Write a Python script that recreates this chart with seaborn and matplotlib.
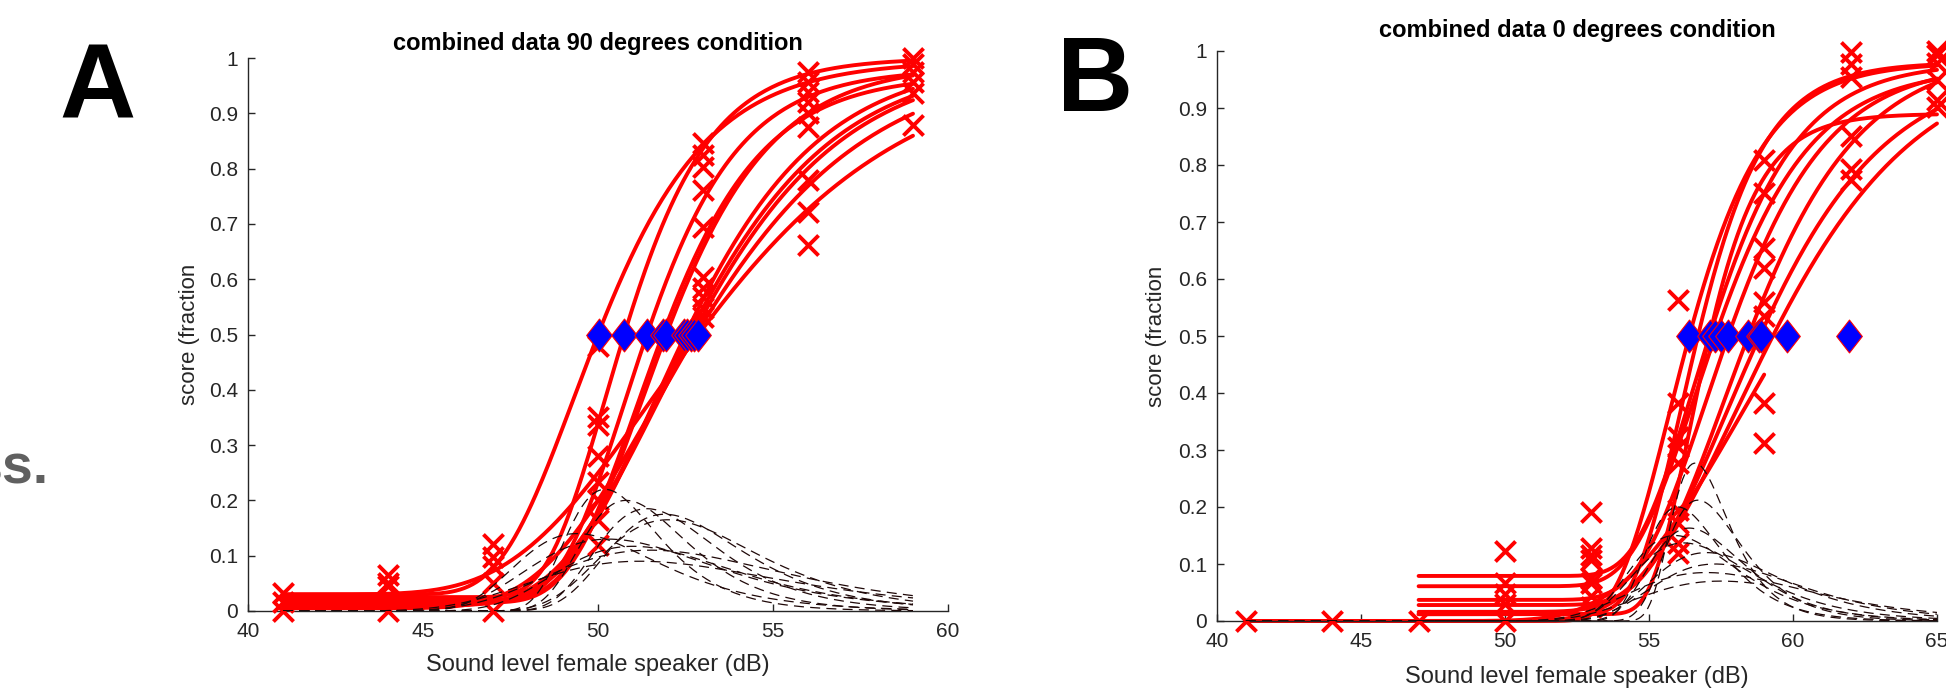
import numpy as np
import pandas as pd
import matplotlib
matplotlib.use("Agg")
import matplotlib.pyplot as plt
from matplotlib.path import Path
import seaborn as sns

# ---------------- values ----------------
# Panel A: 90 degrees condition
A_LEVELS = [41, 44, 47, 50, 53, 56, 59]
A_SCORES = [
    [0.032, 0.017, 0.0],
    [0.065, 0.05, 0.045, 0.0],
    [0.121, 0.098, 0.082, 0.05, 0.0],
    [0.48, 0.35, 0.336, 0.28, 0.233, 0.2, 0.165, 0.12],
    [0.846, 0.825, 0.803, 0.761, 0.695, 0.604, 0.584, 0.568, 0.548, 0.532],
    [0.975, 0.957, 0.939, 0.921, 0.9, 0.875, 0.779, 0.722, 0.662],
    [1.0, 0.99, 0.975, 0.957, 0.936, 0.879],
]
A_THRESH = [50.03, 50.74, 51.39, 51.85, 51.95, 52.45, 52.55, 52.65, 52.75, 52.87]

# fitted psychometric curves (0.5 point, spread, floor, lapse, x range)
A_FIT_T = [50.0, 50.75, 51.4, 51.85, 51.95, 52.5, 52.6, 52.7, 52.8, 52.87]
A_FIT_B = [2.1, 1.65, 1.8, 1.95, 2.05, 2.6, 2.8, 2.9, 3.3, 4.0]
A_FIT_G = [0.03, 0.025, 0.02, 0.02, 0.015, 0.015, 0.01, 0.01, 0.005, 0.03]
A_FIT_L = [0.005, 0.0, 0.02, 0.03, 0.01, 0.0, 0.0, 0.0, 0.0, 0.0]
A_FIT_X0 = [41] * 10
A_FIT_X1 = [59] * 10

# dashed slope curves (peak position, spread, peak height)
A_D_M = [50.2, 50.8, 51.4, 51.9, 49.4, 50.3, 51.0, 51.5, 51.2, 52.0]
A_D_B = [1.3, 1.5, 1.7, 1.9, 2.0, 2.6, 2.5, 3.3, 3.5, 2.2]
A_D_H = [0.22, 0.20, 0.185, 0.175, 0.14, 0.13, 0.117, 0.11, 0.09, 0.165]

# Panel B: 0 degrees condition
B_LEVELS = [41, 44, 47, 50, 53, 56, 59, 62, 65]
B_SCORES = [
    [0.0],
    [0.0],
    [0.0],
    [0.122, 0.066, 0.048, 0.03, 0.0],
    [0.192, 0.128, 0.116, 0.107, 0.075, 0.066, 0.043, 0.025],
    [0.563, 0.382, 0.323, 0.306, 0.277, 0.195, 0.172, 0.137, 0.119],
    [0.809, 0.751, 0.655, 0.62, 0.559, 0.535, 0.382, 0.312],
    [0.999, 0.978, 0.955, 0.851, 0.793, 0.774],
    [1.0, 0.993, 0.979, 0.949, 0.914, 0.902],
]
B_THRESH = [56.39, 57.12, 57.3, 57.51, 57.74, 58.44, 58.83, 58.9, 59.8, 61.93]

B_FIT_T = [56.4, 57.1, 57.1, 57.3, 56.7, 57.75, 58.45, 58.85, 59.3, 59.8]
B_FIT_B = [1.8, 1.3, 2.0, 2.2, 1.6, 2.3, 2.6, 3.0, 3.5, 4.2]
B_FIT_G = [0.0, 0.012, 0.079, 0.061, 0.012, 0.037, 0.028, 0.016, 0.0, 0.0]
B_FIT_L = [0.02, 0.11, 0.02, 0.03, 0.02, 0.02, 0.0, 0.02, 0.0, 0.0]
B_FIT_X0 = [41, 47, 47, 47, 47, 47, 47, 47, 41, 41]
B_FIT_X1 = [65, 65, 65, 65, 65, 65, 65, 65, 65, 59]

B_D_M = [56.6, 56.7, 56.0, 56.4, 55.9, 56.2, 57.0, 57.3, 57.0, 57.5]
B_D_B = [1.0, 1.3, 1.3, 1.6, 1.8, 2.0, 2.2, 2.5, 3.0, 3.2]
B_D_H = [0.277, 0.212, 0.20, 0.163, 0.15, 0.137, 0.12, 0.10, 0.085, 0.07]

RED = "#ff0000"
DASH_COL = "#1f0808"
AX_COL = "#262626"


def fit_frame(T, B, G, L, X0, X1):
    rows = []
    for i, (t, b, g, l, x0, x1) in enumerate(zip(T, B, G, L, X0, X1)):
        p0 = (0.5 - g) / (1 - g - l)
        m = t + b * np.log(-np.log(p0))
        x = np.linspace(x0, x1, 300)
        y = g + (1 - g - l) * np.exp(-np.exp(-(x - m) / b))
        rows.append(pd.DataFrame({"subject": i, "x": x, "y": y}))
    return pd.concat(rows, ignore_index=True)


def slope_frame(M, B, H, X0, X1):
    rows = []
    for i, (m, b, h, x0, x1) in enumerate(zip(M, B, H, X0, X1)):
        x = np.linspace(x0, x1, 300)
        z = (x - m) / b
        y = h * np.exp(1 - z - np.exp(-z))
        rows.append(pd.DataFrame({"subject": i, "x": x, "y": y}))
    return pd.concat(rows, ignore_index=True)


def points_frame(levels, scores):
    xs, ys = [], []
    for lev, sc in zip(levels, scores):
        xs += [lev] * len(sc)
        ys += sc
    return pd.DataFrame({"x": xs, "y": ys})


diamond = Path([(0, 1), (0.78, 0), (0, -1), (-0.78, 0), (0, 1)],
               [Path.MOVETO, Path.LINETO, Path.LINETO, Path.LINETO, Path.CLOSEPOLY])


def draw_panel(ax, fits, slopes, pts, thresh, xmax, title, title_pad):
    sns.lineplot(data=fits, x="x", y="y", units="subject", estimator=None,
                 sort=False, color=RED, linewidth=2.8, ax=ax, legend=False,
                 zorder=2, clip_on=False)
    sns.scatterplot(data=pts, x="x", y="y", marker="x", s=210, linewidth=2.8,
                    color=RED, ax=ax, legend=False, zorder=3, clip_on=False)
    sns.lineplot(data=slopes, x="x", y="y", units="subject", estimator=None,
                 sort=False, color=DASH_COL, linewidth=0.9, linestyle=(0, (8, 5)),
                 ax=ax, legend=False, zorder=4)
    sns.scatterplot(x=thresh, y=[0.5] * len(thresh), marker=diamond, s=560,
                    color="#0000ff", edgecolor=RED, linewidth=0.8, ax=ax,
                    legend=False, zorder=5, clip_on=False)

    ax.set_xlim(40, xmax)
    ax.set_ylim(0, 1)
    ax.set_xticks(np.arange(40, xmax + 1, 5))
    yt = np.round(np.arange(0, 1.01, 0.1), 1)
    ax.set_yticks(yt)
    ax.set_yticklabels(["0" if v == 0 else ("1" if v == 1 else f"{v:g}") for v in yt])
    ax.tick_params(direction="in", length=5, width=1.0, colors=AX_COL,
                   labelsize=15, pad=7)
    ax.tick_params(axis="x", pad=8)
    for side in ["top", "right"]:
        ax.spines[side].set_visible(False)
    for side in ["left", "bottom"]:
        ax.spines[side].set_color(AX_COL)
        ax.spines[side].set_linewidth(1.0)

    ax.set_xlabel("Sound level female speaker (dB)", fontsize=17, color=AX_COL)
    ax.xaxis.set_label_coords(0.5, -0.098)
    ax.xaxis.label.set_va("center")
    ax.set_ylabel("score (fraction", fontsize=16, color=AX_COL)
    ax.yaxis.set_label_coords(-0.084, 0.5)
    ax.yaxis.label.set_va("center")
    ax.set_title(title, fontsize=17, fontweight="bold", color="black", pad=title_pad)


sns.set_style("ticks")
plt.rcParams["font.family"] = ["Liberation Sans", "DejaVu Sans"]

W, H = 1946, 689
fig = plt.figure(figsize=(W / 100, H / 100), dpi=100)

axA = fig.add_axes([248 / W, (H - 611) / H, 700 / W, 553 / H])
axB = fig.add_axes([1217 / W, (H - 621) / H, 720 / W, 570 / H])

draw_panel(axA,
           fit_frame(A_FIT_T, A_FIT_B, A_FIT_G, A_FIT_L, A_FIT_X0, A_FIT_X1),
           slope_frame(A_D_M, A_D_B, A_D_H, A_FIT_X0, A_FIT_X1),
           points_frame(A_LEVELS, A_SCORES), A_THRESH, 60,
           "combined data 90 degrees condition", 6)
draw_panel(axB,
           fit_frame(B_FIT_T, B_FIT_B, B_FIT_G, B_FIT_L, B_FIT_X0, B_FIT_X1),
           slope_frame(B_D_M, B_D_B, B_D_H, B_FIT_X0, B_FIT_X1),
           points_frame(B_LEVELS, B_SCORES), B_THRESH, 65,
           "combined data 0 degrees condition", 10)

# panel letters and the clipped caption fragment on the left
fig.text(98 / W, 1 - 119 / H, "A", fontsize=76, fontweight="bold",
         color="black", ha="center", va="baseline")
fig.text(1095 / W, 1 - 111 / H, "B", fontsize=76, fontweight="bold",
         color="black", ha="center", va="baseline")
fig.text(48 / W, 1 - 484 / H, "ss.", fontsize=40, fontweight="bold",
         color="#606060", ha="right", va="baseline")

fig.savefig("out.png", dpi=100)
